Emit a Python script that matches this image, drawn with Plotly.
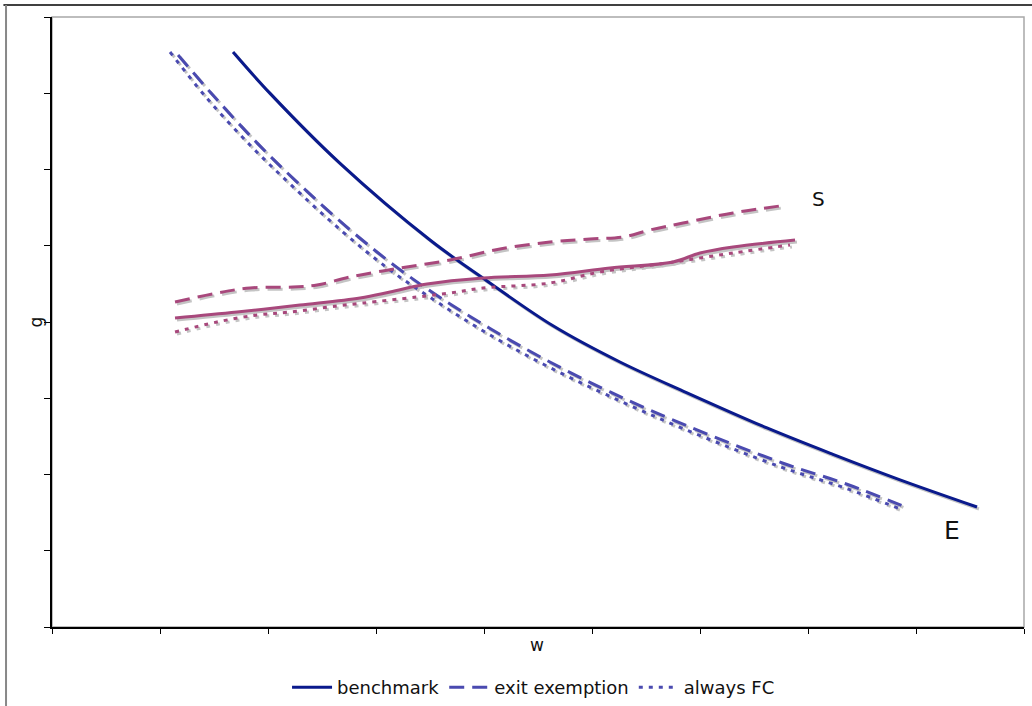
import plotly.graph_objects as go

# ---- data ----
bench_E_x = [1.676, 2.019, 2.667, 3.500, 4.028, 4.639, 5.259, 5.880, 6.620, 7.231, 7.852, 8.565]
bench_E_y = [7.541, 6.998, 6.080, 5.075, 4.538, 3.950, 3.475, 3.071, 2.610, 2.264, 1.930, 1.574]

exit_E_x = [1.167, 1.491, 1.907, 2.269, 2.759, 3.194, 3.593, 4.056, 4.583, 5.167, 5.880, 6.769, 7.361, 7.898]
exit_E_y = [7.502, 6.974, 6.336, 5.835, 5.209, 4.716, 4.321, 3.915, 3.496, 3.083, 2.638, 2.148, 1.872, 1.575]

fc_E_x = [1.093, 1.417, 1.833, 2.204, 2.694, 3.130, 3.537, 4.009, 4.546, 5.139, 5.852, 6.750, 7.343, 7.880]
fc_E_y = [7.541, 6.964, 6.321, 5.810, 5.180, 4.682, 4.289, 3.869, 3.449, 3.043, 2.597, 2.098, 1.823, 1.534]

bench_S_x = [1.139, 1.713, 2.296, 2.852, 3.130, 3.472, 3.991, 4.611, 5.167, 5.750, 6.000, 6.306, 6.880]
bench_S_y = [4.052, 4.131, 4.223, 4.315, 4.393, 4.498, 4.577, 4.616, 4.708, 4.787, 4.905, 4.984, 5.075]

exit_S_x = [1.139, 1.528, 1.833, 2.231, 2.454, 2.759, 3.222, 3.685, 4.148, 4.611, 4.981, 5.287, 5.537, 5.843, 6.306, 6.806]
exit_S_y = [4.262, 4.380, 4.446, 4.459, 4.485, 4.590, 4.708, 4.813, 4.957, 5.049, 5.089, 5.115, 5.207, 5.298, 5.430, 5.534]

fc_S_x = [1.139, 1.528, 1.898, 2.204, 2.639, 2.880, 3.380, 3.685, 3.991, 4.611, 5.074, 5.694, 6.306, 6.833]
fc_S_y = [3.869, 4.000, 4.092, 4.131, 4.210, 4.249, 4.328, 4.380, 4.446, 4.511, 4.656, 4.774, 4.905, 5.010]

series_names = ["benchmark", "exit exemption", "always FC"]
curve_labels = ["S", "E"]
axis_titles = ["w", "g"]

# ---- styles ----
NAVY = "#0A1A8C"
BLUE = "#4A4AB0"
MAGENTA = "#A8487C"
SHADOW = "#C4C4C4"
FONT = "DejaVu Sans"
DASH_LONG = "15px,8px"
DASH_DOT = "4px,6px"

fig = go.Figure()

specs = [
    (bench_E_x, bench_E_y, NAVY, "solid", series_names[0], True),
    (exit_E_x, exit_E_y, BLUE, DASH_LONG, series_names[1], True),
    (fc_E_x, fc_E_y, BLUE, DASH_DOT, series_names[2], True),
    (bench_S_x, bench_S_y, MAGENTA, "solid", series_names[0], False),
    (exit_S_x, exit_S_y, MAGENTA, DASH_LONG, series_names[1], False),
    (fc_S_x, fc_S_y, MAGENTA, DASH_DOT, series_names[2], False),
]

# drop shadows (same data, small visual offset)
sdx, sdy = 0.018, -0.026
for xs, ys, col, dash, name, leg in specs:
    fig.add_trace(go.Scatter(
        x=[v + sdx for v in xs], y=[v + sdy for v in ys], mode="lines",
        line=dict(color=SHADOW, width=3, dash=dash, shape="spline"),
        showlegend=False, hoverinfo="skip"))

for xs, ys, col, dash, name, leg in specs:
    fig.add_trace(go.Scatter(
        x=xs, y=ys, mode="lines", name=name, legendgroup=name, showlegend=leg,
        line=dict(color=col, width=3, dash=dash, shape="spline")))

fig.add_annotation(x=7.093, y=5.613, text=curve_labels[0], showarrow=False,
                   font=dict(family=FONT, size=20, color="#111"), xanchor="center", yanchor="middle")
fig.add_annotation(x=8.333, y=1.272, text=curve_labels[1], showarrow=False,
                   font=dict(family=FONT, size=25, color="#111"), xanchor="center", yanchor="middle")

# axis titles as annotations
fig.add_annotation(x=0.499, y=-0.03, xref="paper", yref="paper", text=axis_titles[0], showarrow=False,
                   font=dict(family=FONT, size=17, color="#111"), xanchor="center", yanchor="middle")
fig.add_annotation(x=-0.016, y=0.5, xref="paper", yref="paper", text=axis_titles[1], showarrow=False,
                   textangle=-90, font=dict(family=FONT, size=17, color="#111"), xanchor="center", yanchor="middle")

# plot area frame (gray) and outer frame
fig.add_shape(type="rect", xref="paper", yref="paper", x0=0, y0=0, x1=1, y1=1,
              line=dict(color="#A8A8A8", width=1.5), layer="below")
fig.add_shape(type="line", xref="paper", yref="paper", x0=-0.05, x1=1.01, y0=1.0197, y1=1.0197,
              line=dict(color="#000", width=1.5))
fig.add_shape(type="line", xref="paper", yref="paper", x0=-0.0473, x1=-0.0473, y0=-0.13, y1=1.0197,
              line=dict(color="#888", width=2))

fig.update_xaxes(range=[0, 9], dtick=1, tick0=0, showticklabels=False, ticks="outside", ticklen=5,
                 tickcolor="#000", showline=True, linecolor="#000", linewidth=1.5,
                 showgrid=False, zeroline=False)
fig.update_yaxes(range=[0, 8], dtick=1, tick0=0, showticklabels=False, ticks="outside", ticklen=6,
                 tickcolor="#000", showline=True, linecolor="#000", linewidth=1.5,
                 showgrid=False, zeroline=False)

fig.update_layout(
    width=1032, height=706,
    margin=dict(l=52, r=8, t=17, b=79),
    plot_bgcolor="white", paper_bgcolor="white",
    font=dict(family=FONT, size=18, color="#111"),
    legend=dict(orientation="h", xref="container", yref="container", x=0.517, y=0.026,
                xanchor="center", yanchor="middle", font=dict(family=FONT, size=18),
                itemwidth=40, tracegroupgap=0),
    showlegend=True,
)

fig.write_html("out.html", config={"displayModeBar": False},
               post_script="document.body.style.margin='0px';")
